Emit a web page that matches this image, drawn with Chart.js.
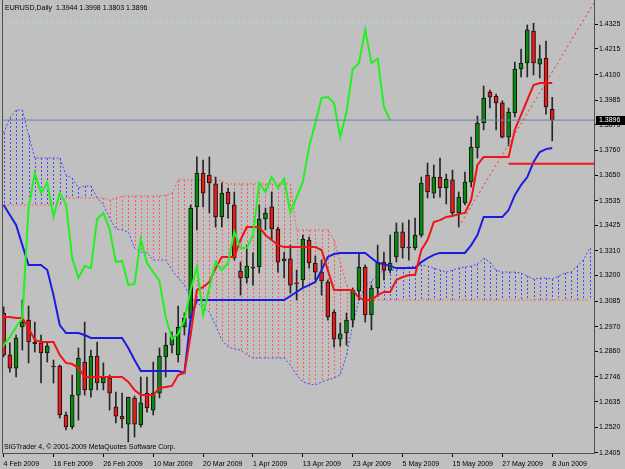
<!DOCTYPE html>
<html>
<head>
<meta charset="utf-8">
<script src="https://cdn.jsdelivr.net/npm/chart.js@4.4.1/dist/chart.umd.min.js"></script>
<style>
  html, body { margin: 0; padding: 0; background: #c0c0c0; }
  canvas { display: block; }
</style>
</head>
<body>
<canvas id="chart" width="625" height="469"></canvas>
<script>
const symbolTitle = "EURUSD,Daily";
const copyright = "SIGTrader 4, \u00a9 2001-2009 MetaQuotes Software Corp.";

// x axis: bar index of each date label
const xTickBars = [0, 8, 16, 24, 32, 40, 48, 56, 64, 72, 80, 88];
const xTickLabels = ["4 Feb 2009", "16 Feb 2009", "26 Feb 2009", "10 Mar 2009", "20 Mar 2009", "1 Apr 2009",
  "13 Apr 2009", "23 Apr 2009", "5 May 2009", "15 May 2009", "27 May 2009", "8 Jun 2009"];
const yTickLabels = ["1.4325", "1.4215", "1.4100", "1.3985", "1.3875", "1.3760", "1.3650", "1.3535", "1.3425",
  "1.3310", "1.3200", "1.3085", "1.2970", "1.2860", "1.2746", "1.2635", "1.2520", "1.2405"];

// daily candles, 4 Feb 2009 .. 8 Jun 2009
const opens = [1.3032,1.2844,1.2785,1.2969,1.3000,1.2902,1.2898,1.2853,1.2794,1.2794,
  1.2575,1.2521,1.2664,1.2812,1.2687,1.2839,1.2718,1.2741,1.2611,1.2570,
  1.2534,1.2651,1.2530,1.2673,1.2597,1.2673,1.2835,1.2888,1.2844,1.2969,
  1.3009,1.3507,1.3659,1.3650,1.3610,1.3462,1.3574,1.3516,1.3220,1.3189,
  1.3238,1.3238,1.3453,1.3507,1.3408,1.3274,1.3274,1.3166,1.3180,1.3359,
  1.3256,1.3215,1.3171,1.3036,1.2915,1.2942,1.3000,1.3130,1.3238,1.3023,
  1.3144,1.3260,1.3224,1.3283,1.3395,1.3327,1.3323,1.3381,1.3650,1.3569,
  1.3641,1.3592,1.3628,1.3480,1.3525,1.3619,1.3771,1.3883,1.4022,1.4004,
  1.3973,1.3820,1.3928,1.4125,1.4152,1.4295,1.4147,1.4174,1.3944];
const highs = [1.3059,1.2898,1.2933,1.3090,1.3063,1.2991,1.2933,1.2902,1.2821,1.2799,
  1.2588,1.2754,1.2875,1.2991,1.2866,1.2902,1.2808,1.2754,1.2678,1.2673,
  1.2655,1.2660,1.2745,1.2745,1.2812,1.2875,1.2942,1.2947,1.3063,1.3032,
  1.3516,1.3731,1.3717,1.3731,1.3641,1.3614,1.3592,1.3574,1.3260,1.3336,
  1.3301,1.3516,1.3502,1.3574,1.3417,1.3305,1.3336,1.3224,1.3381,1.3372,
  1.3287,1.3269,1.3180,1.3045,1.2987,1.3032,1.3144,1.3301,1.3247,1.3157,
  1.3336,1.3305,1.3381,1.3435,1.3435,1.3448,1.3457,1.3641,1.3704,1.3695,
  1.3726,1.3654,1.3672,1.3574,1.3663,1.3820,1.3914,1.4049,1.4031,1.4013,
  1.3982,1.3950,1.4156,1.4214,1.4322,1.4331,1.4232,1.4250,1.3998];
const lows = [1.2835,1.2767,1.2745,1.2866,1.2808,1.2857,1.2718,1.2812,1.2718,1.2561,
  1.2508,1.2512,1.2552,1.2664,1.2655,1.2687,1.2687,1.2597,1.2539,1.2517,
  1.2454,1.2476,1.2521,1.2588,1.2575,1.2651,1.2745,1.2853,1.2812,1.2933,
  1.2991,1.3404,1.3507,1.3480,1.3417,1.3417,1.3457,1.3269,1.3112,1.3166,
  1.3157,1.3211,1.3404,1.3359,1.3215,1.3189,1.3121,1.3090,1.3148,1.3233,
  1.3180,1.3112,1.3000,1.2879,1.2884,1.2888,1.2969,1.3090,1.2991,1.2956,
  1.3112,1.3180,1.3211,1.3260,1.3278,1.3269,1.3314,1.3372,1.3547,1.3547,
  1.3551,1.3520,1.3471,1.3417,1.3516,1.3596,1.3726,1.3852,1.3950,1.3852,
  1.3816,1.3780,1.3910,1.4089,1.4089,1.4098,1.4085,1.3923,1.3803];
const closes = [1.2844,1.2785,1.2920,1.2991,1.2902,1.2893,1.2853,1.2884,1.2790,1.2575,
  1.2521,1.2664,1.2830,1.2687,1.2839,1.2718,1.2741,1.2673,1.2570,1.2557,
  1.2655,1.2534,1.2629,1.2606,1.2673,1.2839,1.2888,1.2924,1.2969,1.3009,
  1.3502,1.3659,1.3569,1.3614,1.3462,1.3569,1.3520,1.3278,1.3189,1.3242,
  1.3233,1.3453,1.3480,1.3408,1.3260,1.3265,1.3157,1.3162,1.3363,1.3256,
  1.3215,1.3175,1.3014,1.2915,1.2938,1.3000,1.3135,1.3238,1.3023,1.3144,
  1.3260,1.3224,1.3256,1.3395,1.3323,1.3323,1.3381,1.3614,1.3574,1.3641,
  1.3592,1.3632,1.3480,1.3551,1.3619,1.3775,1.3883,1.3995,1.3999,1.3973,
  1.3820,1.3932,1.4125,1.4152,1.4300,1.4152,1.4170,1.3955,1.3896];

// Ichimoku lines
const tenkan = [1.3014,1.3014,1.3009,1.3009,1.2965,1.2911,1.2902,1.2902,1.2902,1.2844,
  1.2808,1.2803,1.2785,1.2745,1.2745,1.2745,1.2745,1.2745,1.2745,1.2745,
  1.2723,1.2687,1.2664,1.2664,1.2664,1.2696,1.2700,1.2705,1.2754,1.2763,
  1.2933,1.3135,1.3148,1.3171,1.3233,1.3283,1.3283,1.3283,1.3359,1.3417,
  1.3417,1.3417,1.3381,1.3359,1.3336,1.3327,1.3327,1.3327,1.3327,1.3327,
  1.3327,1.3314,1.3224,1.3135,1.3135,1.3135,1.3135,1.3099,1.3090,1.3090,
  1.3112,1.3126,1.3126,1.3180,1.3193,1.3202,1.3202,1.3314,1.3359,1.3439,
  1.3448,1.3462,1.3466,1.3475,1.3480,1.3538,1.3695,1.3731,1.3731,1.3731,
  1.3731,1.3731,1.3852,1.3919,1.3986,1.4053,1.4062,1.4062,1.4062];
const kijun = [1.3516,1.3471,1.3426,1.3336,1.3247,1.3247,1.3247,1.3224,1.3112,1.2978,
  1.2942,1.2942,1.2942,1.2933,1.2920,1.2920,1.2920,1.2920,1.2920,1.2920,
  1.2875,1.2821,1.2772,1.2772,1.2772,1.2772,1.2772,1.2772,1.2772,1.2763,
  1.3009,1.3090,1.3090,1.3090,1.3090,1.3090,1.3090,1.3090,1.3090,1.3090,
  1.3090,1.3090,1.3090,1.3090,1.3090,1.3090,1.3108,1.3126,1.3144,1.3157,
  1.3171,1.3224,1.3283,1.3296,1.3301,1.3301,1.3301,1.3301,1.3301,1.3278,
  1.3256,1.3251,1.3242,1.3233,1.3233,1.3233,1.3233,1.3260,1.3278,1.3292,
  1.3301,1.3301,1.3301,1.3301,1.3301,1.3336,1.3381,1.3462,1.3462,1.3462,
  1.3462,1.3493,1.3560,1.3605,1.3641,1.3708,1.3753,1.3766,1.3771];
// senkou spans at their (already shifted) bar positions 0..94
const senkouA = [1.3838,1.3905,1.3941,1.3941,1.3829,1.3726,1.3726,1.3726,1.3726,1.3726,
  1.3650,1.3636,1.3592,1.3601,1.3601,1.3547,1.3516,1.3457,1.3408,1.3404,
  1.3395,1.3323,1.3305,1.3301,1.3269,1.3269,1.3269,1.3224,1.3189,1.3157,
  1.3099,1.3081,1.3054,1.3036,1.2978,1.2911,1.2879,1.2871,1.2866,1.2844,
  1.2830,1.2830,1.2830,1.2830,1.2830,1.2830,1.2799,1.2754,1.2723,1.2714,
  1.2709,1.2723,1.2732,1.2741,1.2754,1.2844,1.2978,1.3090,1.3148,1.3175,
  1.3202,1.3224,1.3224,1.3224,1.3233,1.3238,1.3242,1.3247,1.3242,1.3233,
  1.3224,1.3215,1.3224,1.3233,1.3238,1.3242,1.3251,1.3278,1.3260,1.3224,
  1.3215,1.3215,1.3215,1.3211,1.3197,1.3184,1.3188,1.3188,1.3184,1.3197,
  1.3211,1.3215,1.3242,1.3269,1.3323];
const senkouB = [1.3516,1.3516,1.3516,1.3516,1.3516,1.3516,1.3516,1.3516,1.3516,1.3516,
  1.3547,1.3547,1.3547,1.3547,1.3547,1.3547,1.3547,1.3538,1.3547,1.3556,
  1.3556,1.3556,1.3556,1.3556,1.3556,1.3556,1.3560,1.3569,1.3628,1.3628,
  1.3628,1.3628,1.3628,1.3628,1.3628,1.3623,1.3610,1.3610,1.3610,1.3610,
  1.3610,1.3610,1.3610,1.3610,1.3610,1.3610,1.3610,1.3404,1.3404,1.3404,
  1.3404,1.3404,1.3404,1.3359,1.3260,1.3157,1.3099,1.3090,1.3090,1.3090,
  1.3090,1.3090,1.3090,1.3090,1.3090,1.3090,1.3090,1.3090,1.3090,1.3090,
  1.3090,1.3090,1.3090,1.3090,1.3090,1.3090,1.3090,1.3090,1.3090,1.3090,
  1.3090,1.3090,1.3090,1.3090,1.3090,1.3090,1.3090,1.3090,1.3090,1.3090,
  1.3090,1.3090,1.3090,1.3090,1.3090];
const chikouShift = 26;

// drawn objects
const trendBars = [73, 96];
const trendValues = [1.3417, 1.4482];
const levelBars = [81, 96];
const levelValue = 1.3700;
const topLevelValue = 1.4335;
const bidPrice = closes[closes.length - 1];

const FONT = "'Liberation Sans', Arial, sans-serif";
const last = opens.length - 1;

const pts = (arr, shift = 0) => arr.map((v, i) => ({ x: i + shift, y: v }));
const bodyColors = opens.map((o, i) => closes[i] > o ? "#0a8a0a" : (closes[i] < o ? "#e81a1a" : "#606060"));

const bgPlugin = {
  id: "bg",
  beforeDraw(chart) {
    const c = chart.ctx;
    c.save();
    c.fillStyle = "#c0c0c0";
    c.fillRect(0, 0, chart.width, chart.height);
    c.restore();
  }
};

// vertical dotted hatching between the two senkou spans
const cloudPlugin = {
  id: "cloud",
  beforeDatasetsDraw(chart) {
    const { ctx: c, chartArea: a, scales: { x, y } } = chart;
    c.save();
    c.beginPath();
    c.rect(a.left, a.top, a.right - a.left, a.bottom - a.top);
    c.clip();
    c.lineWidth = 1;
    c.setLineDash([2, 2]);
    senkouA.forEach((va, i) => {
      const vb = senkouB[i];
      if (va === vb) return;
      const px = Math.round(x.getPixelForValue(i)) + 0.5;
      c.strokeStyle = va > vb ? "#4a4aff" : "#ff5a5a";
      c.beginPath();
      c.moveTo(px, Math.round(y.getPixelForValue(Math.max(va, vb))));
      c.lineTo(px, Math.round(y.getPixelForValue(Math.min(va, vb))));
      c.stroke();
    });
    c.restore();
  }
};

const overlayPlugin = {
  id: "overlay",
  afterDraw(chart) {
    const { ctx: c, chartArea: a, scales: { y } } = chart;
    c.save();
    c.strokeStyle = "#505050";
    c.lineWidth = 1;
    c.beginPath();
    c.moveTo(2.5, 0);
    c.lineTo(2.5, a.bottom + 0.5);
    c.lineTo(a.right + 0.5, a.bottom + 0.5);
    c.lineTo(a.right + 0.5, 0);
    c.stroke();

    c.fillStyle = "#000";
    c.font = "7px " + FONT;
    c.textBaseline = "middle";
    c.textAlign = "left";
    const ohlc = [opens[last], highs[last], lows[last], closes[last]].map(v => v.toFixed(4)).join(" ");
    c.fillText(symbolTitle + "  " + ohlc, 5, 8.5);
    c.fillText(copyright, 4, 447.5);

    const yb = Math.round(y.getPixelForValue(bidPrice));
    c.fillStyle = "#000";
    c.fillRect(596, yb - 4, 29, 9);
    c.fillStyle = "#fff";
    c.fillText(bidPrice.toFixed(4), 599, yb + 0.5);
    c.restore();
  }
};

new Chart(document.getElementById("chart"), {
  type: "line",
  data: {
    datasets: [
      { label: "bid", data: [{ x: -2, y: bidPrice }, { x: 97, y: bidPrice }], borderColor: "#6b80a6", borderWidth: 1, order: 0 },
      { label: "top", data: [{ x: -2, y: topLevelValue }, { x: 97, y: topLevelValue }], borderColor: "#9fe3e3", borderWidth: 1, borderDash: [3, 3], order: 0 },
      { label: "level", data: levelBars.map(b => ({ x: b, y: levelValue })), borderColor: "#f01818", borderWidth: 2, order: 0 },
      { label: "trend", data: trendBars.map((b, i) => ({ x: b, y: trendValues[i] })), borderColor: "#f03030", borderWidth: 1, borderDash: [2, 3], order: 0 },
      { label: "Chikou", data: pts(closes, -chikouShift), borderColor: "#22f022", borderWidth: 2, order: 1 },
      { label: "Tenkan", data: pts(tenkan), borderColor: "#f01414", borderWidth: 2, order: 2 },
      { label: "Kijun", data: pts(kijun), borderColor: "#1c1ce0", borderWidth: 2, order: 3 },
      { type: "bar", label: "body", data: opens.map((o, i) => ({ x: i, y: [o, closes[i]] })),
        backgroundColor: bodyColors, borderColor: "#101010", borderWidth: 1, borderSkipped: false,
        barThickness: 4, maxBarThickness: 4, minBarLength: 1, grouped: false, order: 4 },
      { type: "bar", label: "wick", data: lows.map((l, i) => ({ x: i, y: [l, highs[i]] })),
        backgroundColor: "#262626", borderWidth: 0, barThickness: 1, maxBarThickness: 1,
        grouped: false, order: 5 },
      { label: "Senkou A", data: pts(senkouA), borderColor: "#4a4aff", borderWidth: 1, borderDash: [2, 2], order: 6 },
      { label: "Senkou B", data: pts(senkouB), borderColor: "#ff5a5a", borderWidth: 1, borderDash: [2, 2], order: 7 }
    ]
  },
  options: {
    responsive: false,
    animation: false,
    devicePixelRatio: 1,
    events: [],
    layout: { padding: { left: 3, top: 3, right: 0, bottom: 0 } },
    elements: { point: { radius: 0 }, line: { tension: 0 } },
    plugins: { legend: { display: false }, tooltip: { enabled: false } },
    scales: {
      x: {
        type: "linear",
        min: -0.1,
        max: 94.7,
        offset: false,
        afterBuildTicks: axis => { axis.ticks = xTickBars.map(v => ({ value: v })); },
        afterFit: axis => { axis.height = 16; axis.paddingLeft = 0; axis.paddingRight = 0; },
        ticks: {
          autoSkip: false, maxRotation: 0, align: "start", padding: 3, color: "#000",
          font: { family: FONT, size: 7 },
          callback: (v, i) => xTickLabels[i]
        },
        grid: { display: true, offset: false, drawOnChartArea: false, drawTicks: true, tickLength: 4, color: "#000" },
        border: { display: false }
      },
      y: {
        type: "linear",
        position: "right",
        min: 1.24046,
        max: 1.44206,
        afterBuildTicks: axis => { axis.ticks = yTickLabels.map(s => ({ value: parseFloat(s) })); },
        afterFit: axis => { axis.width = 31; axis.paddingTop = 0; axis.paddingBottom = 0; },
        ticks: {
          autoSkip: false, padding: 1, color: "#000",
          font: { family: FONT, size: 7 },
          callback: (v, i) => yTickLabels[i]
        },
        grid: { display: true, drawOnChartArea: false, drawTicks: true, tickLength: 4, color: "#000" },
        border: { display: false }
      }
    }
  },
  plugins: [bgPlugin, cloudPlugin, overlayPlugin]
});
</script>
</body>
</html>
